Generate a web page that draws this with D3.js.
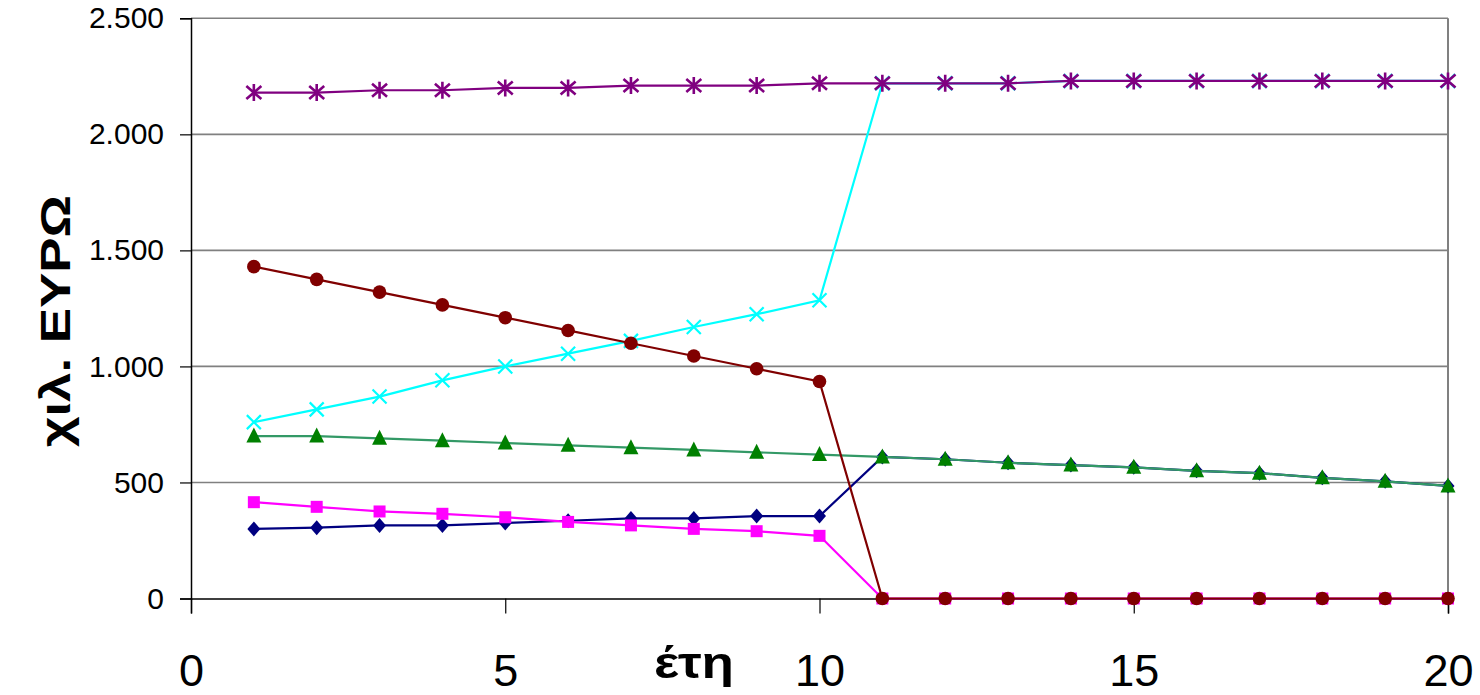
<!DOCTYPE html>
<html>
<head>
<meta charset="utf-8">
<script src="https://cdn.jsdelivr.net/npm/d3@7"></script>
<style>
  html, body { margin: 0; padding: 0; background: #fff; }
  svg { display: block; font-family: "Liberation Sans", Arial, sans-serif; }
</style>
</head>
<body>
<svg id="chart" width="1480" height="695"></svg>
<script>
// Years of the schedule
const years = [1,2,3,4,5,6,7,8,9,10,11,12,13,14,15,16,17,18,19,20];

// Series values (thousand euro per year)
const navySeries    = [300,305,315,315,325,335,345,345,355,355,610,600,585,575,565,550,540,520,505,485];
const magentaSeries = [415,395,375,365,350,330,315,300,290,270,0,0,0,0,0,0,0,0,0,0];
const greenSeries   = [700,700,690,680,670,660,650,640,630,620,610,600,585,575,565,550,540,520,505,485];
const cyanSeries    = [760,815,870,940,1000,1055,1110,1170,1225,1285,2220,2220,2220,2230,2230,2230,2230,2230,2230,2230];
const purpleSeries  = [2180,2180,2190,2190,2200,2200,2210,2210,2210,2220,2220,2220,2220,2230,2230,2230,2230,2230,2230,2230];
const brownSeries   = [1430,1375,1320,1265,1210,1155,1100,1045,990,935,0,0,0,0,0,0,0,0,0,0];

// Axis ticks and titles
const xTicks = [0,5,10,15,20];
const yTicks = [0,500,1000,1500,2000,2500];
const xTitle = "έτη";
const yTitle = "χιλ. ΕΥΡΩ";

const svg = d3.select("#chart");
const plotLeft = 191, plotRight = 1448, plotTop = 18.3, plotBottom = 598.5;

const x = d3.scaleLinear().domain([0, 20]).range([plotLeft, plotRight]);
const y = d3.scaleLinear().domain([0, 2500]).range([plotBottom, plotTop]);

const fmt = d3.formatLocale({decimal: ",", thousands: ".", grouping: [3], currency: ["", "€"]}).format(",d");

// Gridlines
svg.append("g")
  .selectAll("line")
  .data(yTicks.filter(d => d > 0))
  .join("line")
  .attr("x1", plotLeft).attr("x2", plotRight)
  .attr("y1", d => y(d)).attr("y2", d => y(d))
  .attr("stroke", "#808080").attr("stroke-width", 1.6);

// Right border of the plot area
svg.append("line")
  .attr("x1", plotRight).attr("x2", plotRight)
  .attr("y1", plotTop).attr("y2", plotBottom)
  .attr("stroke", "#808080").attr("stroke-width", 2);

// Y axis
const yAxis = svg.append("g")
  .attr("transform", `translate(${plotLeft},0)`)
  .call(d3.axisLeft(y).tickValues(yTicks).tickFormat(fmt).tickSize(11).tickPadding(16));
yAxis.select(".domain").attr("stroke", "#000").attr("stroke-width", 1.5);
yAxis.selectAll(".tick line").attr("stroke", "#000").attr("stroke-width", 1.2);
yAxis.selectAll(".tick text")
  .attr("font-size", 30).attr("fill", "#000")
  .attr("font-family", "'Liberation Sans', Arial, sans-serif");

// X axis
const xAxis = svg.append("g")
  .attr("transform", `translate(0,${plotBottom})`)
  .call(d3.axisBottom(x).tickValues(xTicks).tickFormat(d3.format("d")).tickSize(15).tickPadding(0));
xAxis.select(".domain").attr("stroke", "#000").attr("stroke-width", 1.5);
xAxis.selectAll(".tick line").attr("stroke", "#000").attr("stroke-width", 1.2);
xAxis.selectAll(".tick text")
  .attr("font-size", 45).attr("fill", "#000")
  .attr("dy", null).attr("y", 87)
  .attr("font-family", "'Liberation Sans', Arial, sans-serif");

// Axis titles
svg.append("text")
  .attr("x", 694).attr("y", 678)
  .attr("text-anchor", "middle")
  .attr("font-size", 44).attr("font-weight", "bold")
  .attr("textLength", 80).attr("lengthAdjust", "spacingAndGlyphs")
  .text(xTitle);

svg.append("text")
  .attr("transform", "translate(70,321) rotate(-90)")
  .attr("text-anchor", "middle")
  .attr("font-size", 42).attr("font-weight", "bold")
  .attr("textLength", 252).attr("lengthAdjust", "spacingAndGlyphs")
  .text(yTitle);

// Marker shapes
const markers = {
  diamond: g => g.append("path").attr("d", "M0,-7.5L6.5,0L0,7.5L-6.5,0Z"),
  square: g => g.append("rect").attr("x", -6).attr("y", -6).attr("width", 12).attr("height", 12),
  triangle: g => g.append("path").attr("d", "M0,-8.5L7.5,6.5L-7.5,6.5Z"),
  cross: g => g.append("path").attr("d", "M-7,-7L7,7M-7,7L7,-7").attr("fill", "none").attr("stroke-width", 2.2),
  star: g => g.append("path").attr("d", "M-7.5,-6.5L7.5,6.5M-7.5,6.5L7.5,-6.5M0,-8.5L0,8.5").attr("fill", "none").attr("stroke-width", 2.6),
  circle: g => g.append("circle").attr("r", 6.8)
};

const series = [
  {values: navySeries,    line: "#000080", mark: "#000080", shape: "diamond"},
  {values: magentaSeries, line: "#FF00FF", mark: "#FF00FF", shape: "square"},
  {values: greenSeries,   line: "#339966", mark: "#008000", shape: "triangle"},
  {values: cyanSeries,    line: "#00FFFF", mark: "#00FFFF", shape: "cross"},
  {values: purpleSeries,  line: "#800080", mark: "#800080", shape: "star"},
  {values: brownSeries,   line: "#800000", mark: "#800000", shape: "circle"}
];

const lineGen = d3.line().x((d, i) => x(years[i])).y(d => y(d));

series.forEach(s => {
  const g = svg.append("g");
  g.append("path")
    .attr("d", lineGen(s.values))
    .attr("fill", "none")
    .attr("stroke", s.line)
    .attr("stroke-width", 2.2);
  s.values.forEach((v, i) => {
    const m = g.append("g").attr("transform", `translate(${x(years[i])},${y(v)})`);
    const shape = markers[s.shape](m);
    if (s.shape === "cross" || s.shape === "star") {
      shape.attr("stroke", s.mark);
    } else {
      shape.attr("fill", s.mark);
    }
  });
});
</script>
</body>
</html>
